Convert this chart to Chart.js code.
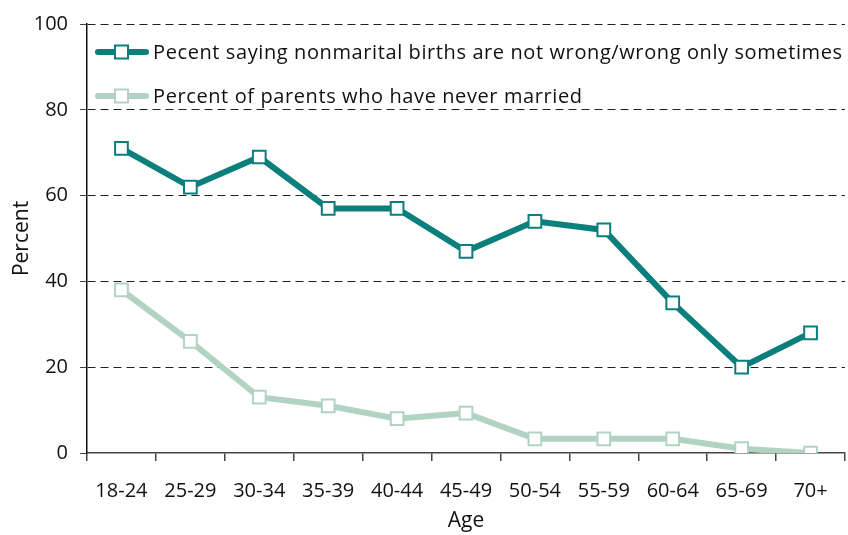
<!DOCTYPE html>
<html lang="en">
<head>
    <meta charset="UTF-8">
    <title>Nonmarital births by age</title>
    <script src="https://cdn.jsdelivr.net/npm/chart.js"></script>
    <style>
        * { margin: 0; padding: 0; box-sizing: border-box; }
        body { width: 848px; height: 535px; background: #fff; overflow: hidden; }
        .wrap { width: 848px; height: 535px; }
    </style>
</head>
<body>
    <div class="wrap"><canvas id="chart" width="848" height="535"></canvas></div>
    <script>
        const ageGroups = ['18-24', '25-29', '30-34', '35-39', '40-44', '45-49', '50-54', '55-59', '60-64', '65-69', '70+'];
        const notWrong = [71, 62, 69, 57, 57, 47, 54, 52, 35, 20, 28];
        const neverMarried = [38, 26, 13, 11, 8, 9.3, 3.3, 3.3, 3.3, 1, 0];
        const yTicks = [0, 20, 40, 60, 80, 100];
        const seriesNames = [
            'Pecent saying nonmarital births are not wrong/wrong only sometimes',
            'Percent of parents who have never married'
        ];

        const dark = '#0a7f7b';
        const light = '#b2d3c3';
        const fontFamily = "'Open Sans', 'DejaVu Sans', sans-serif";

        // legend drawn inside the plot area, top-left
        const insideLegend = {
            id: 'insideLegend',
            afterDatasetsDraw(chart) {
                const ctx = chart.ctx;
                const x0 = chart.chartArea.left + 9;
                const rows = [52, 96];
                ctx.save();
                chart.data.datasets.forEach((ds, i) => {
                    const y = rows[i];
                    ctx.strokeStyle = ds.borderColor;
                    ctx.lineWidth = 6;
                    ctx.lineCap = 'round';
                    ctx.beginPath();
                    ctx.moveTo(x0 + 2, y);
                    ctx.lineTo(x0 + 50, y);
                    ctx.stroke();
                    ctx.fillStyle = '#fff';
                    ctx.lineWidth = 2;
                    ctx.fillRect(x0 + 19, y - 6.5, 13, 13);
                    ctx.strokeRect(x0 + 19, y - 6.5, 13, 13);
                    ctx.fillStyle = '#111';
                    ctx.font = '20px ' + fontFamily;
                    ctx.letterSpacing = '0.6px';
                    ctx.textBaseline = 'middle';
                    ctx.fillText(ds.label, x0 + 57, y + 1);
                });
                ctx.restore();
            }
        };

        new Chart(document.getElementById('chart'), {
            type: 'line',
            data: {
                labels: ageGroups,
                datasets: [{
                    label: seriesNames[0],
                    data: notWrong,
                    borderColor: dark,
                    borderWidth: 6,
                    pointStyle: 'rect',
                    pointRadius: 9,
                    pointBorderWidth: 2,
                    pointBackgroundColor: '#fff',
                    pointBorderColor: dark
                }, {
                    label: seriesNames[1],
                    data: neverMarried,
                    borderColor: light,
                    borderWidth: 6,
                    pointStyle: 'rect',
                    pointRadius: 9,
                    pointBorderWidth: 2,
                    pointBackgroundColor: '#fff',
                    pointBorderColor: light
                }]
            },
            options: {
                responsive: false,
                animation: false,
                layout: { autoPadding: false, padding: { top: 24, right: 3, left: 0, bottom: 0 } },
                plugins: {
                    legend: { display: false },
                    tooltip: { enabled: false }
                },
                scales: {
                    x: {
                        offset: true,
                        grid: {
                            offset: true,
                            drawOnChartArea: false,
                            drawTicks: true,
                            tickLength: 8,
                            color: '#444',
                            lineWidth: 1.5
                        },
                        border: { color: '#444', width: 1.5 },
                        ticks: {
                            color: '#111',
                            font: { family: fontFamily, size: 20 },
                            padding: 18,
                            maxRotation: 0
                        },
                        title: {
                            display: true,
                            text: 'Age',
                            color: '#111',
                            font: { family: fontFamily, size: 21 },
                            padding: { top: 4, bottom: 1 }
                        },
                        afterFit(axis) {
                            axis.height = 82;
                            axis.paddingLeft = 0;
                            axis.paddingRight = 0;
                        }
                    },
                    y: {
                        min: 0,
                        max: 100,
                        afterBuildTicks(axis) { axis.ticks = yTicks.map(v => ({ value: v })); },
                        grid: {
                            color: (c) => c.tick && c.tick.value === 0 ? 'rgba(0,0,0,0)' : '#222',
                            lineWidth: 1,
                            tickColor: '#444',
                            tickLength: 7,
                            tickBorderDash: []
                        },
                        border: { color: '#111', width: 1.5, dash: [8, 5] },
                        ticks: {
                            color: '#111',
                            font: { family: fontFamily, size: 20 },
                            padding: 12
                        },
                        title: {
                            display: true,
                            text: 'Percent',
                            color: '#111',
                            font: { family: fontFamily, size: 21 },
                            padding: { top: 9, bottom: 4 }
                        },
                        afterFit(axis) { axis.width = 87; }
                    }
                }
            },
            plugins: [insideLegend]
        });
    </script>
</body>
</html>
